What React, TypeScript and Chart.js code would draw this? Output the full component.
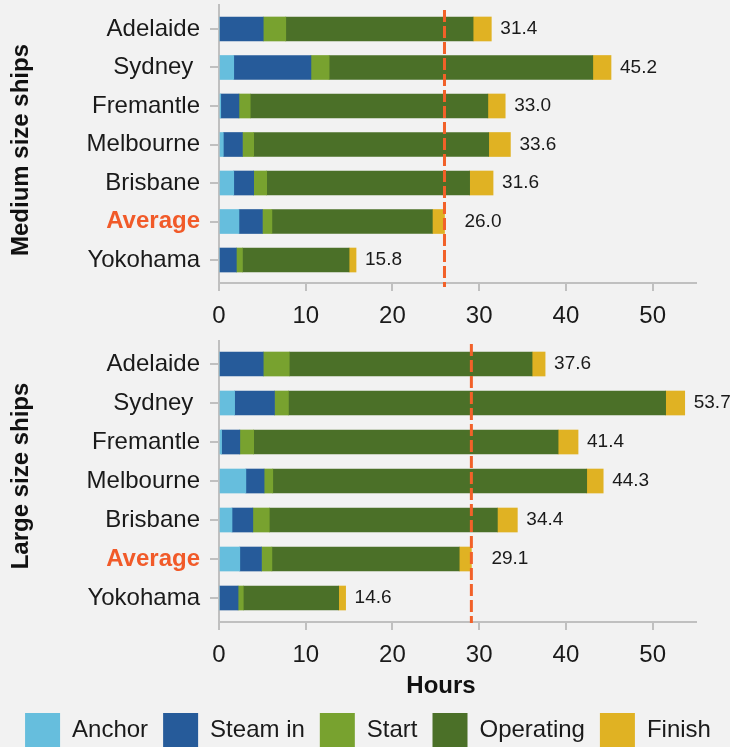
import React, { useEffect, useRef } from 'react';
import { Chart, registerables } from 'chart.js';

Chart.register(...registerables);

// ---------- data ----------
const categories = ['Adelaide', 'Sydney ', 'Fremantle', 'Melbourne', 'Brisbane', 'Average', 'Yokohama'];
const seriesNames = ['Anchor', 'Steam in', 'Start', 'Operating', 'Finish'];
const seriesColors = ['#66bedd', '#265b9a', '#78a22f', '#4b7028', '#e0b223'];

// Medium size ships (hours)
const mediumAnchor = [0, 1.7, 0.2, 0.5, 1.7, 2.3, 0];
const mediumSteamIn = [5.1, 8.9, 2.1, 2.2, 2.3, 2.7, 2.0];
const mediumStart = [2.6, 2.1, 1.3, 1.3, 1.5, 1.1, 0.7];
const mediumOperating = [21.6, 30.4, 27.4, 27.1, 23.4, 18.5, 12.3];
const mediumFinish = [2.1, 2.1, 2.0, 2.5, 2.7, 1.4, 0.8];

// Large size ships (hours)
const largeAnchor = [0, 1.8, 0.3, 3.1, 1.5, 2.4, 0];
const largeSteamIn = [5.1, 4.6, 2.1, 2.1, 2.4, 2.5, 2.2];
const largeStart = [3.0, 1.6, 1.6, 1.0, 1.9, 1.2, 0.6];
const largeOperating = [28.0, 43.5, 35.1, 36.2, 26.3, 21.6, 11.0];
const largeFinish = [1.5, 2.2, 2.3, 1.9, 2.3, 1.4, 0.8];

const xMin = 0;
const xMax = 55;
const xStep = 10;

const panelTitles = ['Medium size ships', 'Large size ships'];
const xTitle = 'Hours';

// ---------- styles ----------
const FONT = "'Liberation Sans', Arial, Helvetica, sans-serif";
const TEXT = '#1a1a1a';
const AXIS = '#c0c0c0';
const ORANGE = '#f15a29';
const LINE_ORANGE = '#f26129';
const BG = '#f2f2f2';
const AVG_INDEX = categories.indexOf('Average');

Chart.defaults.font.family = FONT;

const extrasPlugin = {
  id: 'extras',
  afterDatasetsDraw(chart: any, _args: any, opts: any) {
    const { ctx, chartArea } = chart;
    const xs = chart.scales.x;
    const ys = chart.scales.y;
    const n = chart.data.labels.length;
    const totals: number[] = [];
    for (let i = 0; i < n; i++) {
      let s = 0;
      chart.data.datasets.forEach((d: any) => (s += d.data[i]));
      totals.push(s);
    }
    const avgX = xs.getPixelForValue(totals[AVG_INDEX]);

    // dashed average line
    ctx.save();
    ctx.strokeStyle = LINE_ORANGE;
    ctx.lineWidth = 3;
    ctx.setLineDash([12, 4]);
    ctx.beginPath();
    ctx.moveTo(avgX, chartArea.top + opts.lineInset);
    ctx.lineTo(avgX, chartArea.bottom + opts.lineOverhang);
    ctx.stroke();
    ctx.restore();

    // total labels
    ctx.save();
    ctx.font = `19px ${FONT}`;
    ctx.fillStyle = TEXT;
    ctx.textAlign = 'left';
    ctx.textBaseline = 'middle';
    for (let i = 0; i < n; i++) {
      const endX = xs.getPixelForValue(totals[i]);
      const y = ys.getPixelForValue(i);
      const x = i === AVG_INDEX ? avgX + 20 : endX + 9;
      ctx.fillText(totals[i].toFixed(1), x, y);
    }
    ctx.restore();

    // y title (rotated)
    ctx.save();
    ctx.font = `bold 24px ${FONT}`;
    ctx.fillStyle = '#111';
    ctx.textAlign = 'center';
    ctx.textBaseline = 'middle';
    ctx.translate(opts.yTitleX, opts.yTitleY);
    ctx.rotate(-Math.PI / 2);
    ctx.fillText(opts.yTitle, 0, 0);
    ctx.restore();

    if (opts.xTitle) {
      ctx.save();
      ctx.font = `bold 24px ${FONT}`;
      ctx.fillStyle = '#111';
      ctx.textAlign = 'center';
      ctx.textBaseline = 'middle';
      ctx.fillText(opts.xTitle, opts.xTitleX, opts.xTitleY);
      ctx.restore();
    }
  },
};

const zeroPadding = (s: any) => {
  s.paddingTop = 0;
  s.paddingBottom = 0;
  s.paddingLeft = 0;
  s.paddingRight = 0;
};

type PanelSpec = {
  series: number[][];
  title: string;
  padLeft: number;
  padTop: number;
  yWidth: number;
  xHeight: number;
  startValue: number;
  valueRange: number;
  showLegend: boolean;
  yTitleY: number;
  xTitle?: string;
  lineInset: number;
  lineOverhang: number;
};

function makeConfig(p: PanelSpec): any {
  return {
    type: 'bar',
    data: {
      labels: categories,
      datasets: seriesNames.map((name, k) => ({
        label: name,
        data: p.series[k],
        backgroundColor: seriesColors[k],
        borderWidth: 0,
        barThickness: 24,
      })),
    },
    options: {
      indexAxis: 'y',
      responsive: false,
      animation: false,
      devicePixelRatio: 1,
      layout: { padding: { left: p.padLeft, right: 0, top: p.padTop, bottom: 0 } },
      scales: {
        x: {
          type: 'linear',
          position: 'bottom',
          stacked: true,
          min: xMin,
          max: xMax,
          ticks: {
            stepSize: xStep,
            includeBounds: false,
            color: TEXT,
            font: { size: 24 },
            padding: 11,
            maxRotation: 0,
          },
          grid: {
            display: true,
            drawOnChartArea: false,
            drawTicks: true,
            tickLength: 8,
            color: AXIS,
            lineWidth: 2,
          },
          border: { display: true, color: AXIS, width: 2 },
          afterFit: (s: any) => {
            s.height = p.xHeight;
            zeroPadding(s);
          },
        },
        y: {
          type: 'category',
          stacked: true,
          offset: true,
          ticks: {
            autoSkip: false,
            padding: 10,
            color: (c: any) => (c.index === AVG_INDEX ? ORANGE : TEXT),
            font: (c: any) =>
              c.index === AVG_INDEX ? { size: 24, weight: 'bold' } : { size: 24 },
          },
          grid: {
            display: true,
            drawOnChartArea: false,
            drawTicks: true,
            tickLength: 9,
            color: AXIS,
            lineWidth: 2,
            offset: false,
          },
          border: { display: true, color: AXIS, width: 2 },
          afterFit: (s: any) => {
            s.width = p.yWidth;
            zeroPadding(s);
          },
          afterBuildTicks: (s: any) => {
            s._startValue = p.startValue;
            s._valueRange = p.valueRange;
          },
        },
        yRight: {
          type: 'linear',
          position: 'right',
          display: true,
          grid: { display: false },
          ticks: { display: false },
          border: { display: false },
          afterFit: (s: any) => {
            s.width = 34;
            zeroPadding(s);
          },
        },
      },
      plugins: {
        tooltip: { enabled: false },
        legend: {
          display: p.showLegend,
          position: 'bottom',
          labels: {
            boxWidth: 35,
            boxHeight: 35,
            padding: 15,
            color: TEXT,
            font: { size: 24 },
          },
        },
        extras: {
          yTitle: p.title,
          yTitleX: 21,
          yTitleY: p.yTitleY,
          xTitle: p.xTitle,
          xTitleX: 441,
          xTitleY: 356,
          lineInset: p.lineInset,
          lineOverhang: p.lineOverhang,
        },
      },
    },
    plugins: [extrasPlugin],
  };
}

export default function App() {
  const topRef = useRef<HTMLCanvasElement>(null);
  const botRef = useRef<HTMLCanvasElement>(null);

  useEffect(() => {
    const top = new Chart(
      topRef.current as HTMLCanvasElement,
      makeConfig({
        series: [mediumAnchor, mediumSteamIn, mediumStart, mediumOperating, mediumFinish],
        title: panelTitles[0],
        padLeft: 0,
        padTop: 5,
        yWidth: 219,
        xHeight: 47,
        startValue: -0.623,
        valueRange: 7.22,
        showLegend: false,
        yTitleY: 150,
        lineInset: 5,
        lineOverhang: 4,
      })
    );
    const bottom = new Chart(
      botRef.current as HTMLCanvasElement,
      makeConfig({
        series: [largeAnchor, largeSteamIn, largeStart, largeOperating, largeFinish],
        title: panelTitles[1],
        padLeft: 6,
        padTop: 11,
        yWidth: 213,
        xHeight: 76,
        startValue: -0.59,
        valueRange: 7.205,
        showLegend: true,
        yTitleY: 146,
        xTitle: xTitle,
        lineInset: 3,
        lineOverhang: 1,
      })
    );
    return () => {
      top.destroy();
      bottom.destroy();
    };
  }, []);

  return (
    <div
      style={{
        position: 'fixed',
        left: 0,
        top: 0,
        width: 730,
        height: 747,
        overflow: 'hidden',
        background: BG,
      }}
    >
      <canvas ref={topRef} width={730} height={330} style={{ position: 'absolute', left: 0, top: 0 }} />
      <canvas ref={botRef} width={730} height={428} style={{ position: 'absolute', left: 0, top: 330 }} />
    </div>
  );
}
